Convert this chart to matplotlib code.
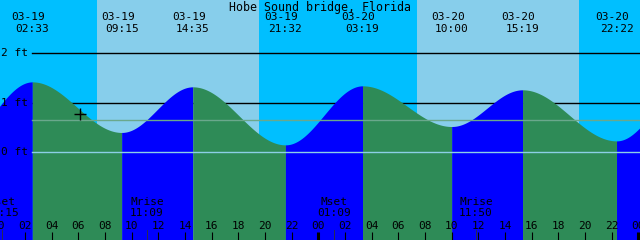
import matplotlib
matplotlib.use("Agg")
import matplotlib.pyplot as plt
import matplotlib.transforms as mtransforms
import numpy as np

# tide events (date, time, height in ft) as printed along the top
tide_dates = ["03-19", "03-19", "03-19", "03-19", "03-20", "03-20", "03-20", "03-20"]
tide_times = ["02:33", "09:15", "14:35", "21:32", "03:19", "10:00", "15:19", "22:22"]
tide_heights = [1.42, 0.40, 1.32, 0.15, 1.34, 0.52, 1.26, 0.23]

# events just outside the window (estimated from the curve at the edges)
edge_dates = ["03-18", "03-21"]
edge_times = ["20:48", "03:54"]
edge_heights = [0.15, 1.40]

# sunrise / sunset
sun_dates = ["03-19", "03-19", "03-20", "03-20"]
sun_times = ["07:23", "19:33", "07:26", "19:33"]

# moon events along the bottom
moon_names = ["Mset", "Mrise", "Mset", "Mrise"]
moon_dates = ["03-19", "03-19", "03-20", "03-20"]
moon_times = ["00:15", "11:09", "01:09", "11:50"]

level_labels = ["2 ft", "1 ft", "0 ft"]
level_values = [2, 1, 0]
msl_level = 0.645
now_time = ("03-19", "06:08")
now_height = 0.78

title = "Hobe Sound bridge, Florida"

DAY_COLOR = "#87ceeb"
NIGHT_COLOR = "#00bfff"
FLOOD_COLOR = "#0000ff"
EBB_COLOR = "#2e8b57"


def to_hours(date, hm):
    day = int(date.split("-")[1]) - 19
    h, m = hm.split(":")
    return day * 24 + int(h) + int(m) / 60.0


# pixel geometry of the original (640 x 240)
W, H = 640, 240
PX_PER_HOUR = 320 / 24
X0_HOURS = 1.7 / PX_PER_HOUR
Y_ZERO = 152.3
PX_PER_FT = 49.6


def yfrac(py):
    return 1 - py / H


fig = plt.figure(figsize=(W / 100, H / 100), dpi=100)
ax = fig.add_axes([0, 0, 1, 1])
xmin, xmax = X0_HOURS, X0_HOURS + W / PX_PER_HOUR
ymin, ymax = (Y_ZERO - H) / PX_PER_FT, Y_ZERO / PX_PER_FT
ax.set_xlim(xmin, xmax)
ax.set_ylim(ymin, ymax)
ax.axis("off")
trans = mtransforms.blended_transform_factory(ax.transData, ax.transAxes)
px = 1 / PX_PER_HOUR

# sky: night / day
sun = [to_hours(d, t) for d, t in zip(sun_dates, sun_times)]
edges = [xmin - 1] + sun + [xmax + 1]
for i in range(len(edges) - 1):
    ax.axvspan(edges[i], edges[i + 1], color=NIGHT_COLOR if i % 2 == 0 else DAY_COLOR, lw=0, zorder=0)

# level lines behind the water
x_line0 = xmin + 32 * px
for v in level_values[:2]:
    ax.plot([x_line0, xmax], [v, v], color="black", lw=1, zorder=1)

# tide curve, rising = flood colour, falling = ebb colour
ev_t = [to_hours(edge_dates[0], edge_times[0])] + \
       [to_hours(d, t) for d, t in zip(tide_dates, tide_times)] + \
       [to_hours(edge_dates[1], edge_times[1])]
ev_h = [edge_heights[0]] + tide_heights + [edge_heights[1]]
for i in range(len(ev_t) - 1):
    t0, t1, h0, h1 = ev_t[i], ev_t[i + 1], ev_h[i], ev_h[i + 1]
    t = np.linspace(t0, t1, 200)
    h = h0 + (h1 - h0) * (1 - np.cos(np.pi * (t - t0) / (t1 - t0))) / 2
    ax.fill_between(t, ymin, h, color=FLOOD_COLOR if h1 > h0 else EBB_COLOR, lw=0, zorder=2)

# datum and mean sea level lines
ax.plot([x_line0, xmax], [0, 0], color="#8ccfe6", lw=1, zorder=3)
ax.plot([x_line0, xmax], [msl_level, msl_level], color="#6aa88c", lw=1, zorder=3)

# current time marker
ax.plot(to_hours(*now_time), now_height, marker="+", color="black", ms=9, mew=1, zorder=4)

font = dict(family="DejaVu Sans Mono", fontsize=8, color="black", zorder=5)

ax.text(0.5, yfrac(1), title, transform=ax.transAxes, ha="center", va="top",
        **{**font, "fontsize": 8.4})

for d, t in zip(tide_dates, tide_times):
    x = to_hours(d, t)
    ax.text(x - 4 * px, yfrac(17.5), d, transform=trans, ha="center", va="center", **font)
    ax.text(x, yfrac(29.5), t, transform=trans, ha="center", va="center", **font)

for lab, v in zip(level_labels, level_values):
    ax.text(xmin + 1 * px, v, lab, ha="left", va="center", **font)

# hour ticks along the bottom
for hr in range(0, 50, 2):
    midnight = hr % 24 == 0
    ax.plot([hr, hr], [0, yfrac(231.7)], transform=trans, color="black",
            lw=2.2 if midnight else 0.8, zorder=4, solid_capstyle="butt")
    ax.text(hr, yfrac(226), f"{hr % 24:02d}", transform=trans, ha="center", va="center", **font)

for name, d, t in zip(moon_names, moon_dates, moon_times):
    x = to_hours(d, t)
    ax.plot([x, x], [0, yfrac(230)], transform=trans, color="#333333", lw=0.6, zorder=4)
    ax.text(x, yfrac(202), name, transform=trans, ha="center", va="center", **font)
    ax.text(x, yfrac(213), t, transform=trans, ha="center", va="center", **font)

fig.savefig("out.png", dpi=100)
